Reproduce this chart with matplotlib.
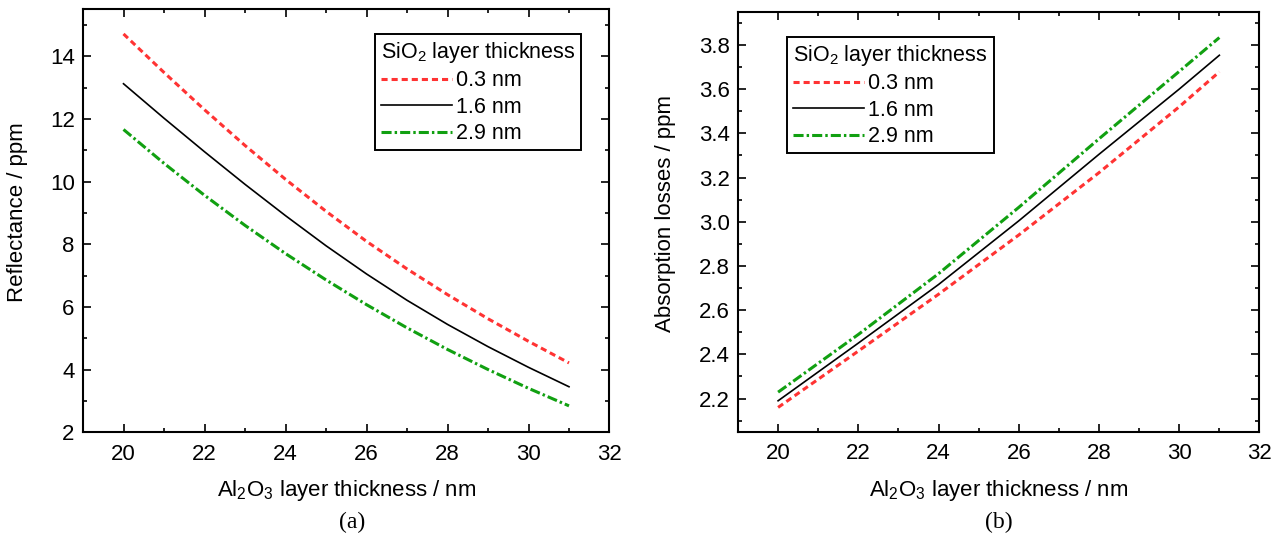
import numpy as np
import matplotlib
matplotlib.use('Agg')
import matplotlib.pyplot as plt
from matplotlib.ticker import MultipleLocator, FormatStrFormatter

plt.rcParams['font.family'] = ['Liberation Sans', 'DejaVu Sans']
plt.rcParams['mathtext.fontset'] = 'custom'
plt.rcParams['mathtext.rm'] = 'Liberation Sans'
plt.rcParams['mathtext.it'] = 'Liberation Sans'

# Al2O3 layer thickness (nm)
al2o3 = [20, 21, 22, 23, 24, 25, 26, 27, 28, 29, 30, 31]
al2o3_b = [20, 22, 24, 26, 28, 30, 31]

# (a) reflectance in ppm, one list per SiO2 thickness
refl_03 = [14.72, 13.49, 12.30, 11.16, 10.08, 9.06, 8.10, 7.22, 6.40, 5.63, 4.91, 4.22]
refl_16 = [13.13, 12.03, 10.96, 9.92, 8.92, 7.96, 7.06, 6.22, 5.45, 4.74, 4.08, 3.46]
refl_29 = [11.67, 10.59, 9.57, 8.61, 7.71, 6.87, 6.08, 5.34, 4.65, 4.01, 3.41, 2.85]

# (b) absorption losses in ppm
abs_03 = [2.160, 2.415, 2.672, 2.940, 3.222, 3.520, 3.678]
abs_16 = [2.190, 2.451, 2.716, 3.004, 3.305, 3.600, 3.753]
abs_29 = [2.229, 2.490, 2.765, 3.065, 3.375, 3.680, 3.833]

labels = ['0.3 nm', '1.6 nm', '2.9 nm']
legend_title = 'SiO$_2$ layer thickness'
xlabel = 'Al$_2$O$_3$ layer thickness / nm'

red = '#ff3333'
green = '#11a011'
fs = 16

fig = plt.figure(figsize=(12.81, 5.39), dpi=100)
ax1 = fig.add_axes([0.0648, 0.1976, 0.4110, 0.7848])
ax2 = fig.add_axes([0.5761, 0.1990, 0.4071, 0.7793])


def draw(ax, x, ys):
    ax.plot(x, ys[0], color=red, lw=2.2, dashes=(2.0, 1.3), label=labels[0])
    ax.plot(x, ys[1], color='black', lw=1.2, label=labels[1])
    ax.plot(x, ys[2], color=green, lw=2.2, dashes=(3.3, 1.0, 0.8, 1.0), label=labels[2])


def style(ax):
    ax.set_xlim(19, 32)
    ax.xaxis.set_major_locator(MultipleLocator(2))
    ax.xaxis.set_minor_locator(MultipleLocator(1))
    ax.tick_params(which='both', direction='in', top=True, right=True,
                   labelsize=fs, width=1.2)
    ax.tick_params(axis='x', pad=8)
    ax.tick_params(axis='y', pad=6)
    ax.tick_params(which='major', length=6)
    ax.tick_params(which='minor', length=3)
    for s in ax.spines.values():
        s.set_linewidth(1.5)
    ax.set_xlabel(xlabel, fontsize=fs, labelpad=10)


draw(ax1, al2o3, [refl_03, refl_16, refl_29])
style(ax1)
ax1.set_ylim(2, 15.5)
ax1.yaxis.set_major_locator(MultipleLocator(2))
ax1.yaxis.set_minor_locator(MultipleLocator(1))
ax1.set_ylabel('Reflectance / ppm', fontsize=fs)
ax1.yaxis.set_label_coords(-0.104, 0.52)

draw(ax2, al2o3_b, [abs_03, abs_16, abs_29])
style(ax2)
ax2.set_ylim(2.05, 3.95)
ax2.yaxis.set_major_locator(MultipleLocator(0.2))
ax2.yaxis.set_minor_locator(MultipleLocator(0.1))
ax2.yaxis.set_major_formatter(FormatStrFormatter('%.1f'))
ax2.set_ylabel('Absorption losses / ppm', fontsize=fs)
ax2.yaxis.set_label_coords(-0.119, 0.52)

for ax, anchor in [(ax1, (0.5546, 0.942)), (ax2, (0.094, 0.94))]:
    leg = ax.legend(title=legend_title, loc='upper left', bbox_to_anchor=anchor,
                    borderaxespad=0, fontsize=15.5, title_fontsize=15.5,
                    handlelength=3.3, handletextpad=0.2, labelspacing=0.25,
                    borderpad=0.28, fancybox=False, framealpha=1, edgecolor='black')
    leg._legend_box.align = 'left'
    leg.get_frame().set_linewidth(1.4)

fig.text(0.2746, 0.02, '(a)', fontsize=17, family='Liberation Serif', ha='center')
fig.text(0.7795, 0.02, '(b)', fontsize=17, family='Liberation Serif', ha='center')

fig.savefig('out.png', dpi=100)
